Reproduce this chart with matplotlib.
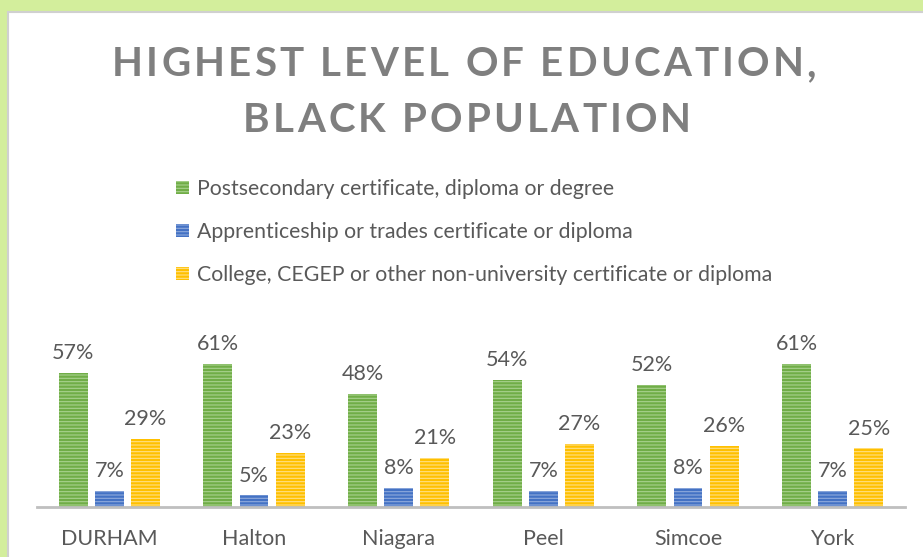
import numpy as np
import matplotlib.pyplot as plt
from matplotlib.patches import Rectangle


regions = ["DURHAM", "Halton", "Niagara", "Peel", "Simcoe", "York"]
postsecondary = [57, 61, 48, 54, 52, 61]
apprenticeship = [7, 5, 8, 7, 8, 7]
college = [29, 23, 21, 27, 26, 25]

series_names = [
    "Postsecondary certificate, diploma or degree",
    "Apprenticeship or trades certificate or diploma",
    "College, CEGEP or other non-university certificate or diploma",
]
title_lines = ["HIGHEST LEVEL OF EDUCATION,", "BLACK POPULATION"]

colors = ["#70ad47", "#4472c4", "#ffc000"]
hatch_colors = ["#a9d18e", "#8faadc", "#ffe085"]
text_grey = "#595959"

plt.rcParams["font.family"] = ["Lato", "DejaVu Sans"]
plt.rcParams["hatch.linewidth"] = 0.8

W, H = 923, 557
fig = plt.figure(figsize=(W / 100, H / 100), dpi=100)
fig.patch.set_facecolor("#d3ee9c")

# white chart panel with thin grey border
fig.patches.append(Rectangle((8 / W, -0.01), 1, 1 - 12 / H + 0.01, transform=fig.transFigure,
                             facecolor="white", edgecolor="#d0d0d0", linewidth=1.5, zorder=-5))


def spaced_text(s, xc, y, track, **kw):
    # draw a line of text with extra letter spacing (px), centred on xc
    r = fig.canvas.get_renderer()
    probe = fig.text(0, 0, "l", **kw)
    lw = probe.get_window_extent(r).width
    pos = []
    for i in range(len(s) + 1):
        probe.set_text(s[:i] + "l")
        pos.append(probe.get_window_extent(r).width - lw)
    probe.remove()
    total = pos[-1] + track * (len(s) - 1)
    x0 = xc - total / 2
    for i, ch in enumerate(s):
        if ch != " ":
            fig.text((x0 + pos[i] + i * track) / W, y, ch, ha="left", va="baseline", **kw)


title_kw = dict(fontsize=29, fontweight="bold", color="#7f7f7f")
spaced_text(title_lines[0], 464, 1 - 76 / H, 3.2, **title_kw)
spaced_text(title_lines[1], 467, 1 - 132 / H, 3.2, **title_kw)

ax = fig.add_axes([37 / W, 50 / H, 868 / W, 200 / H])
ax.set_facecolor("none")

x = np.arange(len(regions))
width = 0.2
offsets = [-0.25, 0, 0.25]
handles = []
for vals, off, c, hc, name in zip([postsecondary, apprenticeship, college], offsets,
                                  colors, hatch_colors, series_names):
    bars = ax.bar(x + off, vals, width, facecolor=c, edgecolor=hc, hatch="-----",
                  linewidth=0, label=name)
    handles.append(bars)
    for b, v in zip(bars, vals):
        ax.annotate(f"{v}%", (b.get_x() + b.get_width() / 2, v), xytext=(0, 7),
                    textcoords="offset points", ha="center", va="bottom",
                    fontsize=15.5, color=text_grey)

ax.set_xlim(-0.5, len(regions) - 0.5)
ax.set_ylim(0, 200 / 2.35)
ax.set_yticks([])
ax.set_xticks(x)
ax.set_xticklabels(regions, fontsize=15.5, color=text_grey)
ax.tick_params(axis="x", length=0, pad=16)
for s in ["top", "left", "right"]:
    ax.spines[s].set_visible(False)
ax.spines["bottom"].set_color("#bfbfbf")
ax.spines["bottom"].set_linewidth(2)

fig.legend(handles=handles, labels=series_names, loc="upper left",
           bbox_to_anchor=(157 / W, 1 - 160 / H), frameon=False, fontsize=15.3,
           labelcolor=text_grey, handlelength=0.6, handleheight=0.6,
           handletextpad=0.4, labelspacing=1.08)

fig.savefig("out.png", dpi=100, facecolor=fig.get_facecolor())
